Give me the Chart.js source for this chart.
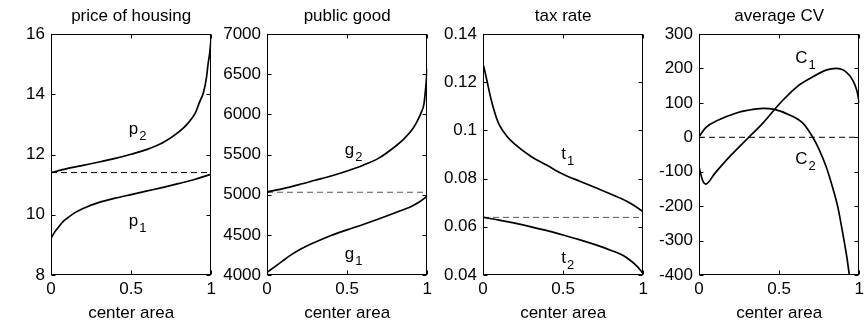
<!DOCTYPE html>
<html>
<head>
<meta charset="utf-8">
<script src="https://cdn.jsdelivr.net/npm/chart.js@4.4.0/dist/chart.umd.min.js"></script>
<style>
  html, body { margin: 0; padding: 0; background: #fff; overflow: hidden; }
  body { width: 865px; height: 325px; position: relative; }
  canvas { position: absolute; top: 0; }
</style>
</head>
<body>
<canvas id="housing" width="219" height="325" style="left:1px"></canvas>
<canvas id="good" width="219" height="325" style="left:217px"></canvas>
<canvas id="tax" width="219" height="325" style="left:433px"></canvas>
<canvas id="cv" width="219" height="325" style="left:649px"></canvas>
<script>
// --- данные (x = доля центра) ---
const p1X = [0, 0.025, 0.05, 0.075, 0.1, 0.15, 0.2, 0.3, 0.4, 0.5, 0.6, 0.7, 0.8, 0.9, 1];
const p1Y = [9.22, 9.44, 9.61, 9.77, 9.88, 10.07, 10.21, 10.41, 10.55, 10.67, 10.79, 10.91, 11.04, 11.18, 11.35];
const p2X = [0, 0.1, 0.2, 0.3, 0.4, 0.5, 0.6, 0.7, 0.8, 0.85, 0.9, 0.93, 0.95, 0.97, 0.98, 0.99, 1];
const p2Y = [11.4, 11.53, 11.64, 11.75, 11.87, 12.01, 12.17, 12.4, 12.76, 13.01, 13.37, 13.78, 14.03, 14.55, 15.0, 15.36, 15.9];
const housingBase = 11.4;

const g1X = [0, 0.05, 0.1, 0.15, 0.2, 0.3, 0.4, 0.5, 0.6, 0.7, 0.8, 0.9, 0.95, 1];
const g1Y = [4033, 4104, 4179, 4250, 4312, 4408, 4492, 4562, 4629, 4700, 4775, 4854, 4908, 4983];
const g2X = [0, 0.1, 0.2, 0.3, 0.4, 0.5, 0.6, 0.7, 0.8, 0.85, 0.9, 0.93, 0.96, 0.98, 0.99, 1];
const g2Y = [5033, 5075, 5125, 5179, 5233, 5295, 5367, 5458, 5600, 5685, 5795, 5887, 6012, 6137, 6325, 6567];
const goodBase = 5030;

const t1X = [0, 0.01, 0.025, 0.05, 0.075, 0.1, 0.15, 0.2, 0.3, 0.4, 0.5, 0.6, 0.7, 0.8, 0.9, 0.95, 1];
const t1Y = [0.1275, 0.125, 0.1205, 0.113, 0.107, 0.1025, 0.0975, 0.0942, 0.0892, 0.0855, 0.0818, 0.079, 0.0763, 0.0735, 0.0705, 0.0685, 0.0662];
const t2X = [0, 0.1, 0.2, 0.3, 0.4, 0.5, 0.6, 0.7, 0.8, 0.875, 0.92, 0.96, 0.98, 1];
const t2Y = [0.0639, 0.0628, 0.0615, 0.06, 0.0584, 0.0566, 0.0547, 0.0526, 0.0502, 0.0481, 0.046, 0.0437, 0.0422, 0.0405];
const taxBase = 0.0639;

const c1X = [0, 0.01, 0.025, 0.042, 0.1, 0.2, 0.3, 0.4, 0.47, 0.52, 0.565, 0.62, 0.689, 0.793, 0.855, 0.917, 0.959, 0.984, 1];
const c1Y = [-85, -105, -128, -136, -104, -52, -5, 42, 80, 106, 127, 150, 170, 195, 200, 190, 166, 137, 100];
const c2X = [0, 0.042, 0.125, 0.229, 0.3, 0.4, 0.47, 0.565, 0.648, 0.71, 0.751, 0.793, 0.835, 0.866, 0.897, 0.922, 0.938, 0.95];
const c2Y = [2, 28, 51, 70, 78, 84, 81, 65, 41, 0, -37, -85, -148, -202, -279, -347, -400, -445];
const cvBase = 0;

// подписи кривых: буква + индекс
const housingLabels = [{ text: 'p', sub: '2', x: 0.485, y: 12.68 }, { text: 'p', sub: '1', x: 0.485, y: 9.62 }];
const goodLabels = [{ text: 'g', sub: '2', x: 0.485, y: 5500 }, { text: 'g', sub: '1', x: 0.485, y: 4205 }];
const taxLabels = [{ text: 't', sub: '1', x: 0.489, y: 0.088 }, { text: 't', sub: '2', x: 0.489, y: 0.045 }];
const cvLabels = [{ text: 'C', sub: '1', x: 0.6, y: 215 }, { text: 'C', sub: '2', x: 0.6, y: -77 }];

const FONT = "'Liberation Sans', Arial, Helvetica, sans-serif";
Chart.defaults.color = '#000';
Chart.defaults.font.family = FONT;
Chart.defaults.font.size = 17;

const toPoints = (xs, ys) => xs.map((x, i) => ({ x: x, y: ys[i] }));

// рамка и внутренние засечки как в MATLAB
const boxPlugin = {
    id: 'box',
    afterDatasetsDraw(chart) {
        const { ctx, chartArea: a, scales: { x, y } } = chart;
        const L = Math.round(a.left) + 0.5, R = Math.round(a.right) - 0.5;
        const T = Math.round(a.top) + 0.5, B = Math.round(a.bottom) - 0.5;
        ctx.save();
        ctx.strokeStyle = '#000';
        ctx.lineWidth = 1;
        ctx.strokeRect(L, T, R - L, B - T);
        ctx.beginPath();
        x.ticks.forEach(t => {
            const px = Math.round(x.getPixelForValue(t.value)) + 0.5;
            ctx.moveTo(px, B); ctx.lineTo(px, B - 4);
            ctx.moveTo(px, T); ctx.lineTo(px, T + 4);
        });
        y.ticks.forEach(t => {
            const py = Math.round(y.getPixelForValue(t.value)) + 0.5;
            ctx.moveTo(L, py); ctx.lineTo(L + 4, py);
            ctx.moveTo(R, py); ctx.lineTo(R - 4, py);
        });
        ctx.stroke();
        ctx.restore();
    }
};

// подписи кривых с нижним индексом
const curveLabelPlugin = {
    id: 'curveLabels',
    afterDatasetsDraw(chart, args, opts) {
        const { ctx, scales: { x, y } } = chart;
        ctx.save();
        ctx.fillStyle = '#000';
        ctx.textBaseline = 'alphabetic';
        ctx.textAlign = 'left';
        (opts.items || []).forEach(l => {
            const px = x.getPixelForValue(l.x);
            const py = y.getPixelForValue(l.y);
            ctx.font = '17px ' + FONT;
            ctx.fillText(l.text, px, py);
            const w = ctx.measureText(l.text).width;
            ctx.font = '13px ' + FONT;
            ctx.fillText(l.sub, px + w + 1, py + 6);
        });
        ctx.restore();
    }
};

const fmt = v => String(parseFloat(Number(v).toFixed(4)));

function makePanel(id, title, yMin, yMax, yStep, curves, base, dashColor, labels) {
    const datasets = curves.map(c => ({
        data: c,
        borderColor: '#000',
        borderWidth: 1.7,
        pointRadius: 0,
        cubicInterpolationMode: 'monotone',
        fill: false
    }));
    datasets.push({
        data: [{ x: 0, y: base }, { x: 1, y: base }],
        borderColor: dashColor,
        borderWidth: 1,
        borderDash: [6, 4],
        pointRadius: 0
    });
    return new Chart(document.getElementById(id), {
        type: 'line',
        data: { datasets: datasets },
        options: {
            responsive: false,
            animation: false,
            layout: { padding: { left: 0, right: 8, top: 0, bottom: 0 } },
            plugins: {
                legend: { display: false },
                tooltip: { enabled: false },
                title: {
                    display: true,
                    text: title,
                    fullSize: false,
                    font: { size: 17, weight: 'normal' },
                    padding: { top: 6.6, bottom: 7 }
                },
                curveLabels: { items: labels }
            },
            scales: {
                x: {
                    type: 'linear',
                    min: 0, max: 1,
                    border: { display: false },
                    grid: { display: false, drawTicks: false, tickLength: 0 },
                    ticks: { stepSize: 0.5, padding: 4, maxRotation: 0, callback: fmt },
                    title: { display: true, text: 'center area', padding: { top: 0, bottom: 1.5 } },
                    afterFit: s => { s.height = 50; }
                },
                y: {
                    min: yMin, max: yMax,
                    border: { display: false },
                    grid: { display: false, drawTicks: false, tickLength: 0 },
                    ticks: { stepSize: yStep, padding: 6, callback: fmt },
                    afterFit: s => { s.width = 50; }
                }
            }
        },
        plugins: [boxPlugin, curveLabelPlugin]
    });
}

makePanel('housing', 'price of housing', 8, 16, 2,
    [toPoints(p1X, p1Y), toPoints(p2X, p2Y)], housingBase, '#000', housingLabels);
makePanel('good', 'public good', 4000, 7000, 500,
    [toPoints(g1X, g1Y), toPoints(g2X, g2Y)], goodBase, '#555', goodLabels);
makePanel('tax', 'tax rate', 0.04, 0.14, 0.02,
    [toPoints(t1X, t1Y), toPoints(t2X, t2Y)], taxBase, '#555', taxLabels);
makePanel('cv', 'average CV', -400, 300, 100,
    [toPoints(c1X, c1Y), toPoints(c2X, c2Y)], cvBase, '#000', cvLabels);
</script>
</body>
</html>
